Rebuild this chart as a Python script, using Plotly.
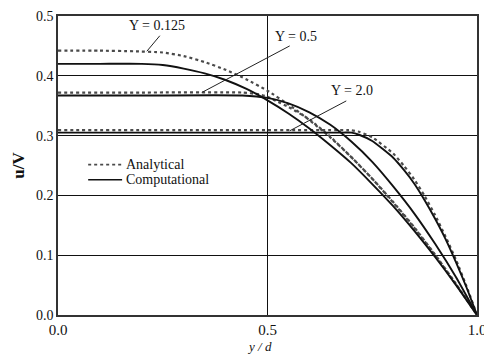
import plotly.graph_objects as go

# ---- data ----
x_a0125 = [0.0, 0.1, 0.18, 0.25, 0.3, 0.35, 0.4, 0.45, 0.5, 0.55, 0.6, 0.65, 0.7, 0.75, 0.8, 0.85, 0.9, 0.95, 1.0]
u_a0125 = [0.442, 0.442, 0.441, 0.439, 0.433, 0.423, 0.410, 0.394, 0.375, 0.352, 0.326, 0.297, 0.264, 0.228, 0.189, 0.147, 0.101, 0.052, 0.0]

x_c0125 = [0.0, 0.1, 0.2, 0.25, 0.3, 0.35, 0.4, 0.45, 0.5, 0.55, 0.6, 0.65, 0.7, 0.75, 0.8, 0.85, 0.9, 0.95, 1.0]
u_c0125 = [0.420, 0.420, 0.420, 0.418, 0.412, 0.404, 0.393, 0.378, 0.359, 0.337, 0.312, 0.284, 0.254, 0.219, 0.182, 0.141, 0.097, 0.050, 0.0]

x_a05 = [0.0, 0.2, 0.44, 0.48, 0.5, 0.52, 0.55, 0.6, 0.65, 0.7, 0.75, 0.8, 0.85, 0.9, 0.95, 1.0]
u_a05 = [0.372, 0.372, 0.372, 0.369, 0.365, 0.358, 0.348, 0.327, 0.298, 0.264, 0.228, 0.188, 0.146, 0.100, 0.051, 0.0]

x_c05 = [0.0, 0.2, 0.44, 0.5, 0.55, 0.6, 0.65, 0.7, 0.75, 0.8, 0.85, 0.9, 0.95, 1.0]
u_c05 = [0.367, 0.367, 0.367, 0.363, 0.354, 0.339, 0.318, 0.290, 0.256, 0.215, 0.170, 0.119, 0.063, 0.0]

x_a20 = [0.0, 0.3, 0.69, 0.7, 0.72, 0.75, 0.8, 0.825, 0.85, 0.875, 0.9, 0.925, 0.95, 0.975, 1.0]
u_a20 = [0.309, 0.309, 0.309, 0.309, 0.306, 0.297, 0.270, 0.250, 0.227, 0.199, 0.167, 0.131, 0.092, 0.048, 0.0]

x_c20 = [0.0, 0.3, 0.68, 0.7, 0.72, 0.75, 0.8, 0.825, 0.85, 0.875, 0.9, 0.925, 0.95, 0.975, 1.0]
u_c20 = [0.305, 0.305, 0.305, 0.305, 0.301, 0.291, 0.263, 0.243, 0.220, 0.192, 0.161, 0.127, 0.088, 0.046, 0.0]

label_text = ["Y = 0.125", "Y = 0.5", "Y = 2.0"]
label_x = [0.236, 0.568, 0.701]
label_y = [0.484, 0.466, 0.375]
leader_x0 = [0.243, 0.553, 0.688]
leader_y0 = [0.467, 0.450, 0.358]
leader_x1 = [0.212, 0.343, 0.553]
leader_y1 = [0.441, 0.372, 0.308]

legend_names = ["Analytical", "Computational"]

x_ticks = [0.0, 0.5, 1.0]
x_tick_text = ["0.0", "0.5", "1.0"]
y_ticks = [0.0, 0.1, 0.2, 0.3, 0.4, 0.5]
y_tick_text = ["0.0", "0.1", "0.2", "0.3", "0.4", "0.5"]

SERIF = "Liberation Serif"
dot_style = dict(color="#4a4a4a", width=2.2, dash="dot")
sol_style = dict(color="#111111", width=1.9)

fig = go.Figure()
series = [
    (x_a0125, u_a0125, dot_style),
    (x_a05, u_a05, dot_style),
    (x_a20, u_a20, dot_style),
    (x_c0125, u_c0125, sol_style),
    (x_c05, u_c05, sol_style),
    (x_c20, u_c20, sol_style),
]
for xs, ys, st in series:
    fig.add_trace(go.Scatter(x=xs, y=ys, mode="lines", line=dict(shape="spline", smoothing=0.5, **st),
                             showlegend=False))

for t, lx, ly in zip(label_text, label_x, label_y):
    fig.add_annotation(x=lx, y=ly, text=t, showarrow=False, xref="x", yref="y",
                       font=dict(family=SERIF, size=14, color="#111"))
for x0, y0, x1, y1 in zip(leader_x0, leader_y0, leader_x1, leader_y1):
    fig.add_shape(type="line", x0=x0, y0=y0, x1=x1, y1=y1, xref="x", yref="y",
                  line=dict(color="#222", width=1))

# hand-placed legend (key lines + labels) in paper coordinates
leg_styles = [dot_style, sol_style]
leg_y = [0.503, 0.452]
for name, st, ly in zip(legend_names, leg_styles, leg_y):
    fig.add_shape(type="line", xref="paper", yref="paper", x0=0.072, x1=0.153, y0=ly, y1=ly,
                  line=dict(color=st["color"], width=st["width"] * 0.8, dash=st.get("dash", "solid")))
    fig.add_annotation(text=name, xref="paper", yref="paper", x=0.157, y=ly, xanchor="left",
                       yanchor="middle", showarrow=False, font=dict(family=SERIF, size=14, color="#111"))

fig.add_annotation(text="<b>u/V</b>", xref="paper", yref="paper", x=-0.095, y=0.5,
                   xanchor="center", yanchor="middle",
                   textangle=-90, showarrow=False, font=dict(family=SERIF, size=17, color="#111"))
fig.add_annotation(text="<i>y / d</i>", xref="paper", yref="paper", x=0.482, y=-0.107,
                   xanchor="center", yanchor="middle",
                   showarrow=False, font=dict(family=SERIF, size=13, color="#111"))

# page body has an 8px default margin, so the figure is sized to fit the 492x355 window
fig.update_layout(
    width=484, height=347,
    margin=dict(l=50, r=15, t=8, b=40),
    paper_bgcolor="white", plot_bgcolor="white",
    font=dict(family=SERIF, size=14, color="#111"),
    xaxis=dict(range=[0, 1], tickvals=x_ticks, ticktext=x_tick_text, showgrid=True, automargin=False,
               gridcolor="#111", gridwidth=1.3, showline=True, linecolor="#333", linewidth=1.5,
               mirror=True, zeroline=False, ticks="", ticklabelstandoff=0, ticklabeloverflow="allow",
               tickfont=dict(family=SERIF, size=15)),
    yaxis=dict(range=[0, 0.5], tickvals=y_ticks, ticktext=y_tick_text, showgrid=True, automargin=False,
               gridcolor="#111", gridwidth=1.3, showline=True, linecolor="#333", linewidth=1.5,
               mirror=True, zeroline=False, ticks="", ticklabelstandoff=0, ticklabeloverflow="allow",
               tickfont=dict(family=SERIF, size=14)),
)

fig.write_html("out.html")
